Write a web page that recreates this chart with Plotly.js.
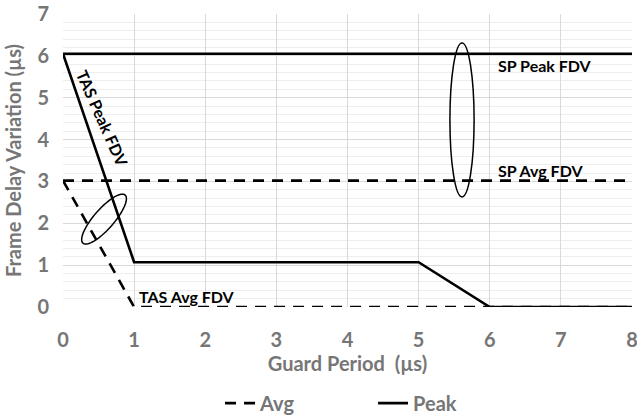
<!DOCTYPE html>
<html>
<head>
<meta charset="utf-8">
<script src="https://cdn.plot.ly/plotly-3.0.1.min.js"></script>
<style>html,body{margin:0;padding:0;background:#fff;}#chart{width:637px;height:419px;}</style>
</head>
<body>
<div id="chart"></div>
<script>
// Data
const spX = [0, 8];
const spPeak = [6.05, 6.05];
const spAvg = [3.02, 3.02];
const tasPeakX = [0, 1, 5, 6, 8];
const tasPeak = [6.05, 1.07, 1.07, 0, 0];
const tasAvgX = [0, 1, 8];
const tasAvg = [3.02, 0, 0];
const xTicks = [0, 1, 2, 3, 4, 5, 6, 7, 8];
const yTicks = [0, 1, 2, 3, 4, 5, 6, 7];

const FONT = 'Lato, "Open Sans", sans-serif';
const GRAY = '#767676';
const DASH = '11px,8px';
const LW = 2.6;

const traces = [
  {x: tasAvgX, y: tasAvg, name: 'Avg', mode: 'lines', legendgroup: 'avg',
   line: {color: '#000', width: LW, dash: DASH}, hoverinfo: 'skip'},
  {x: spX, y: spAvg, name: 'Avg', mode: 'lines', legendgroup: 'avg', showlegend: false,
   line: {color: '#000', width: LW, dash: DASH}, hoverinfo: 'skip'},
  {x: tasPeakX, y: tasPeak, name: 'Peak', mode: 'lines', legendgroup: 'peak',
   line: {color: '#000', width: LW}, hoverinfo: 'skip'},
  {x: spX, y: spPeak, name: 'Peak', mode: 'lines', legendgroup: 'peak', showlegend: false,
   line: {color: '#000', width: LW}, hoverinfo: 'skip'}
];

// plot-area scale (px per data unit) used to draw a tilted ellipse annotation
const W = 637 - 63 - 5, H = 419 - 14 - 112;
const pxX = W / 8, pxY = H / 7;
function ellipsePath(cx, cy, a, b, deg) {
  const th = deg * Math.PI / 180;
  let d = '';
  for (let i = 0; i <= 72; i++) {
    const t = i / 72 * 2 * Math.PI;
    const dx = a * Math.cos(t) * Math.cos(th) - b * Math.sin(t) * Math.sin(th);
    const dy = a * Math.cos(t) * Math.sin(th) + b * Math.sin(t) * Math.cos(th);
    d += (i === 0 ? 'M' : 'L') + (cx + dx / pxX).toFixed(4) + ',' + (cy + dy / pxY).toFixed(4);
  }
  return d + 'Z';
}

const layout = {
  width: 637, height: 419,
  margin: {l: 63, r: 5, t: 14, b: 112, autoexpand: false},
  paper_bgcolor: '#fff', plot_bgcolor: '#fff',
  font: {family: FONT, color: GRAY},
  showlegend: true,
  legend: {orientation: 'h', x: 0.276, xanchor: 'left', xref: 'paper',
           y: 0.038, yanchor: 'middle', yref: 'container',
           font: {family: FONT, size: 20, color: GRAY, weight: 'bold'},
           itemwidth: 30, entrywidth: 108, entrywidthmode: 'pixels', bgcolor: 'rgba(0,0,0,0)'},
  xaxis: {range: [0, 8.0001], tickvals: xTicks, ticktext: xTicks.map(String),
          showgrid: true, gridcolor: '#d9d9d9', gridwidth: 1, zeroline: false,
          showline: false, ticks: '', ticklabelstandoff: 19, ticklabeloverflow: 'allow',
          tickfont: {family: FONT, size: 20, color: GRAY, weight: 'bold'},
          title: {text: 'Guard Period\u00a0 (µs)', standoff: 3,
                  font: {family: FONT, size: 20, color: GRAY, weight: 'bold'}}},
  yaxis: {range: [0, 7.0001], tickvals: yTicks, ticktext: yTicks.map(String),
          showgrid: true, gridcolor: '#d9d9d9', gridwidth: 1, zeroline: false,
          showline: false, ticks: '', ticklabelstandoff: 13, ticklabeloverflow: 'allow',
          minor: {dtick: 0.2, showgrid: true, gridcolor: '#eeeeee', gridwidth: 1},
          tickfont: {family: FONT, size: 20, color: GRAY, weight: 'bold'},
          title: {text: 'Frame Delay Variation (µs)', standoff: 10,
                  font: {family: FONT, size: 20, color: GRAY, weight: 'bold'}}},
  shapes: [
    {type: 'circle', xref: 'x', yref: 'y', x0: 5.44, x1: 5.78, y0: 2.63, y1: 6.31,
     line: {color: '#000', width: 1.5}},
    {type: 'path', xref: 'x', yref: 'y', path: ellipsePath(0.577, 2.10, 32, 10, 48.8),
     line: {color: '#000', width: 1.5}}
  ],
  annotations: [
    {x: 6.78, y: 5.78, xref: 'x', yref: 'y', text: 'SP Peak FDV', showarrow: false,
     font: {family: FONT, size: 16, color: '#000', weight: 'bold'}},
    {x: 6.71, y: 3.27, xref: 'x', yref: 'y', text: 'SP Avg FDV', showarrow: false,
     font: {family: FONT, size: 16, color: '#000', weight: 'bold'}},
    {x: 1.74, y: 0.24, xref: 'x', yref: 'y', text: 'TAS Avg FDV', showarrow: false,
     font: {family: FONT, size: 16, color: '#000', weight: 'bold'}},
    {x: 0.56, y: 4.51, xref: 'x', yref: 'y', text: 'TAS Peak FDV', showarrow: false,
     textangle: 66, font: {family: FONT, size: 16, color: '#000', weight: 'bold'}}
  ]
};

Plotly.newPlot('chart', traces, layout, {displayModeBar: false, staticPlot: true});
</script>
</body>
</html>
